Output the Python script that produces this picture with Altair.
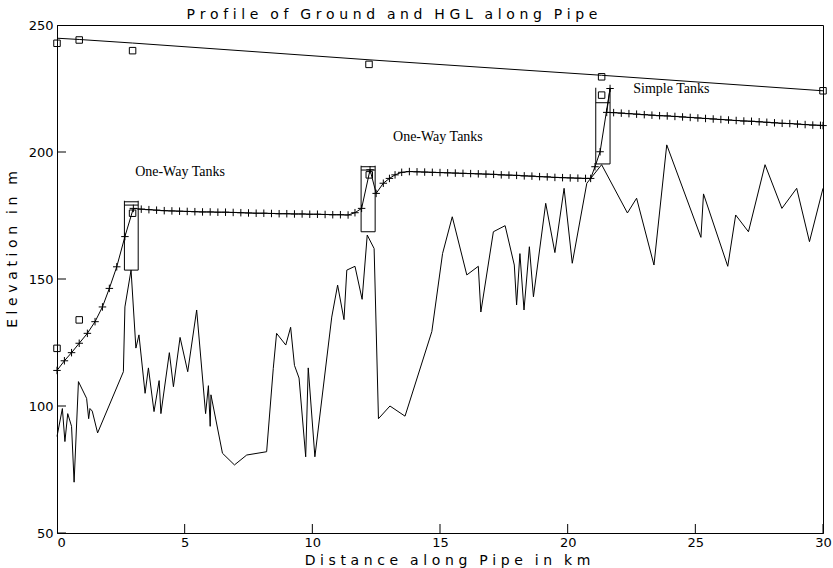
import altair as alt
import pandas as pd

# ---- ground profile along the pipe (km, m) ----
ground_km = [0, 0.21, 0.31, 0.42, 0.57, 0.67, 0.84, 1.16, 1.24, 1.29, 1.38, 1.59,
             2.6, 2.66, 2.9, 3.09, 3.21, 3.45, 3.58, 3.8, 4.0, 4.07, 4.4, 4.56,
             4.82, 5.12, 5.47, 5.82, 5.93, 6.0, 6.03, 6.48, 6.95, 7.43, 8.21, 8.47,
             8.6, 8.96, 9.15, 9.3, 9.48, 9.74, 9.84, 10.1, 10.76, 10.99, 11.24, 11.35,
             11.67, 11.95, 12.15, 12.42, 12.59, 13.04, 13.63, 14.68, 15.1, 15.48, 16.05,
             16.5, 16.6, 17.09, 17.55, 17.91, 18.0, 18.13, 18.29, 18.5, 18.66, 19.14,
             19.5, 19.86, 20.18, 20.75, 21.33, 22.34, 22.7, 23.38, 23.88, 25.22, 25.32,
             26.27, 26.58, 27.08, 27.73, 28.39, 28.97, 29.47, 30.0]
ground_m = [88, 99, 86, 97, 92, 70, 109.6, 103, 95, 99, 98, 89.4,
            113.5, 139, 153.5, 122.8, 128, 105, 115, 97.8, 110, 97, 121, 107.6,
            127, 113.5, 137.8, 97, 108, 92, 104.4, 81.4, 76.8, 80.7, 82, 114.8,
            128.6, 124, 131, 116, 111, 80, 115, 80, 135, 147.6, 134, 153.5,
            155, 142, 167.3, 162, 95, 100, 96, 129.3, 160, 174.5, 151.6,
            155, 137, 168.6, 171, 155.5, 139.8, 160, 137.8, 162.7, 143, 179.8,
            160.4, 185.7, 156.2, 187.7, 195, 176, 181.8, 155.5, 202.8, 166.4, 183.5,
            155, 175.2, 168.6, 195, 177.8, 185.7, 164.7, 185.7]

# ---- transient HGL with surge tanks (km, m) ----
hgl_km = [0, 0.29, 0.57, 0.87, 1.19, 1.49, 1.78, 2.05, 2.34, 2.66, 2.99,
          3.3, 3.6, 3.9, 4.2, 4.5, 4.8, 5.1, 5.4, 5.7, 6.0, 6.3, 6.6, 6.9, 7.2,
          7.5, 7.8, 8.1, 8.4, 8.7, 9.0, 9.3, 9.6, 9.9, 10.2, 10.5, 10.8, 11.1, 11.4,
          11.67, 11.93, 12.26, 12.5, 12.78, 13.02, 13.24, 13.5,
          13.8, 14.1, 14.4, 14.7, 15.0, 15.3, 15.6, 15.9, 16.2, 16.5, 16.8, 17.1,
          17.4, 17.7, 18.0, 18.3, 18.6, 18.9, 19.2, 19.5, 19.8, 20.1, 20.4, 20.7,
          20.9, 21.07, 21.27, 21.66, 21.53,
          21.8, 22.1, 22.4, 22.7, 23.0, 23.3, 23.6, 23.9, 24.2, 24.5, 24.8, 25.1,
          25.4, 25.7, 26.0, 26.3, 26.6, 26.9, 27.2, 27.5, 27.8, 28.1, 28.4, 28.7,
          29.0, 29.3, 29.6, 29.9, 30.0]
hgl_m = [114.0, 117.8, 121.0, 124.7, 128.6, 133.2, 139.0, 146.3, 154.8, 166.7, 177.8,
         177.5, 177.3, 177.1, 176.9, 176.8, 176.7, 176.6, 176.5, 176.4, 176.4, 176.3,
         176.3, 176.2, 176.1, 176.0, 175.9, 175.9, 175.8, 175.7, 175.7, 175.6, 175.6,
         175.5, 175.5, 175.4, 175.3, 175.3, 175.2,
         176.1, 177.8, 193.0, 183.7, 187.7, 189.6, 191.0, 192.0,
         192.3, 192.2, 192.1, 192.0, 191.9, 191.8, 191.7, 191.6, 191.5, 191.4, 191.3,
         191.2, 191.0, 190.9, 190.8, 190.6, 190.5, 190.3, 190.2, 190.0, 189.9, 189.8,
         189.7, 189.6,
         189.6, 194.2, 200.1, 225.0, 215.6,
         215.5, 215.3, 215.1, 214.9, 214.7, 214.5, 214.3, 214.2, 214.0, 213.8, 213.6,
         213.4, 213.2, 213.0, 212.8, 212.6, 212.4, 212.2, 212.1, 211.9, 211.7, 211.5,
         211.3, 211.2, 211.0, 210.8, 210.6, 210.5, 210.4]

# ---- steady-state HGL ----
steady_km = [0, 0.87, 2.96, 12.22, 21.33, 30.0]
steady_m = [244.8, 244.3, 242.9, 236.3, 230.2, 224.1]

# ---- computed envelope points (open squares) ----
square_km = [0, 0.87, 2.96, 12.22, 21.33, 30.0, 0, 0.87, 2.96, 12.23, 21.33]
square_m = [242.8, 244.1, 239.9, 234.5, 229.6, 224.1, 122.7, 133.9, 175.9, 191.0, 222.4]

# ---- surge tanks ----
tank_left = [2.64, 11.91, 21.10]
tank_right = [3.18, 12.46, 21.66]
tank_floor = [153.5, 168.6, 195.3]
tank_wall_top = [180.8, 194.6, 225.3]
rim_tank = [0, 0, 1, 1, 2]
rim_m = [180.4, 179.1, 194.2, 192.9, 219.4]

# ---- annotations ----
label_text = ["One-Way Tanks", "One-Way Tanks", "Simple Tanks"]
label_km = [3.06, 13.16, 22.57]
label_m = [192.0, 206.0, 224.7]

x_ticks = [0, 5, 10, 15, 20, 25, 30]
y_ticks = [50, 100, 150, 200, 250]

SANS = "DejaVu Sans"
SERIF = "Liberation Serif"


def spaced(text, gap="\u2004"):
    """Wide plotter-style lettering."""
    return (gap + " \u2009").join(gap.join(word) for word in text.split(" "))


xs = alt.Scale(domain=[0, 30], nice=False, zero=False)
ys = alt.Scale(domain=[50, 250], nice=False, zero=False)

x_axis = alt.Axis(
    values=x_ticks, grid=False, ticks=False, tickSize=0,
    domainColor="black", labelColor="black",
    labelFont=SANS, labelFontSize=13, labelPadding=3,
    labelAlign={"expr": "datum.value == 0 ? 'left' : 'center'"},
    title=spaced("Distance along Pipe in km"), titleFont=SANS, titleFontSize=14,
    titleFontWeight="normal", titleColor="black",
    titleX=390, titleY=27, titleBaseline="middle", titleAlign="center",
)
y_axis = alt.Axis(
    values=y_ticks, grid=False, ticks=False, tickSize=0,
    domainColor="black", labelColor="black",
    labelFont=SANS, labelFontSize=13, labelPadding=4,
    title=spaced("Elevation in m"), titleFont=SANS, titleFontSize=14,
    titleFontWeight="normal", titleColor="black",
    titleX=-45, titleY=224, titleBaseline="middle", titleAlign="center", titleAngle=-90,
)


def X(field="km"):
    return alt.X(field, type="quantitative", scale=xs, axis=x_axis)


def Y(field="m"):
    return alt.Y(field, type="quantitative", scale=ys, axis=y_axis)


ground = pd.DataFrame({"km": ground_km, "m": ground_m})
hgl = pd.DataFrame({"km": hgl_km, "m": hgl_m, "i": list(range(len(hgl_km)))})
steady = pd.DataFrame({"km": steady_km, "m": steady_m})
squares = pd.DataFrame({"km": square_km, "m": square_m})

walls = pd.DataFrame({
    "km": tank_left + tank_right,
    "m": tank_floor + tank_floor,
    "m2": tank_wall_top + tank_wall_top,
})
floors = pd.DataFrame({"km": tank_left, "km2": tank_right, "m": tank_floor})
rims = pd.DataFrame({
    "km": [tank_left[t] for t in rim_tank],
    "km2": [tank_right[t] for t in rim_tank],
    "m": rim_m,
})
labels = pd.DataFrame({"km": label_km, "m": label_m, "text": label_text})
xtick_df = pd.DataFrame({"km": x_ticks, "m": [y_ticks[0]] * len(x_ticks)})
ytick_df = pd.DataFrame({"km": [x_ticks[0]] * len(y_ticks), "m": y_ticks})

line_style = dict(color="black", strokeWidth=1)
plus = "M-1,0L1,0M0,-1L0,1"

ground_layer = alt.Chart(ground).mark_line(**line_style).encode(x=X(), y=Y())
steady_layer = alt.Chart(steady).mark_line(**line_style).encode(x=X(), y=Y())
hgl_layer = alt.Chart(hgl).mark_line(**line_style).encode(
    x=X(), y=Y(), order=alt.Order("i:Q"))
hgl_marks = alt.Chart(hgl).mark_point(
    shape=plus, size=56, filled=False, color="black", strokeWidth=1, opacity=1
).encode(x=X(), y=Y())
square_layer = alt.Chart(squares).mark_point(
    shape="square", size=42, filled=False, color="black", strokeWidth=1, opacity=1
).encode(x=X(), y=Y())

wall_layer = alt.Chart(walls).mark_rule(**line_style).encode(
    x=X(), y=Y(), y2="m2:Q")
floor_layer = alt.Chart(floors).mark_rule(**line_style).encode(
    x=X(), x2="km2:Q", y=Y())
rim_layer = alt.Chart(rims).mark_rule(**line_style).encode(
    x=X(), x2="km2:Q", y=Y())

xtick_layer = alt.Chart(xtick_df).mark_tick(
    orient="vertical", size=18, thickness=1, color="black", clip=True, opacity=1
).encode(x=X(), y=Y())
ytick_layer = alt.Chart(ytick_df).mark_tick(
    orient="horizontal", size=18, thickness=1, color="black", clip=True, opacity=1
).encode(x=X(), y=Y())

label_layer = alt.Chart(labels).mark_text(
    font=SERIF, fontSize=14, align="left", baseline="middle", color="black"
).encode(x=X(), y=Y(), text="text:N")

chart = alt.layer(
    ground_layer, steady_layer, hgl_layer, hgl_marks, square_layer,
    wall_layer, floor_layer, rim_layer, xtick_layer, ytick_layer, label_layer,
).properties(
    width=766,
    height=508,
    autosize=alt.AutoSizeParams(type="none"),
    padding={"left": 57, "top": 25, "right": 10, "bottom": 35},
    title=alt.TitleParams(
        text=spaced("Profile of Ground and HGL along Pipe"),
        font=SANS, fontSize=14, fontWeight="normal", color="black",
        anchor="middle", dx=-48, dy=20, offset=6, baseline="alphabetic",
    ),
    background="white",
).configure_view(stroke="black", strokeWidth=1)

chart.save("out.html", embed_options={"renderer": "svg", "actions": False})
